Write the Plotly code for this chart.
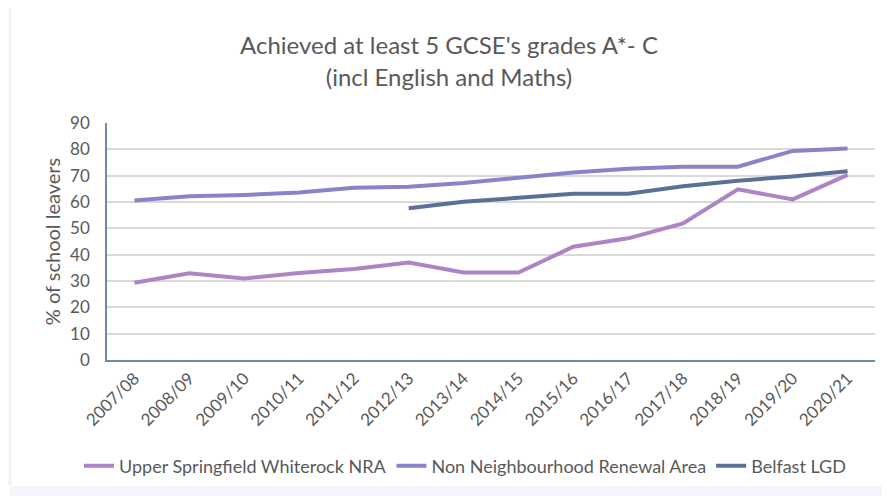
import plotly.graph_objects as go

years = ["2007/08", "2008/09", "2009/10", "2010/11", "2011/12", "2012/13", "2013/14",
         "2014/15", "2015/16", "2016/17", "2017/18", "2018/19", "2019/20", "2020/21"]
usw_nra = [29.3, 32.9, 31.0, 33.0, 34.6, 37.0, 33.2, 33.2, 43.0, 46.2, 51.9, 64.8, 61.0, 70.3]
non_nra = [60.6, 62.2, 62.7, 63.6, 65.4, 65.8, 67.2, 69.2, 71.2, 72.6, 73.4, 73.4, 79.4, 80.3]
belfast = [None, None, None, None, None, 57.6, 60.1, 61.6, 63.1, 63.1, 66.0, 68.1, 69.7, 71.7]

names = ["Upper Springfield Whiterock NRA", "Non Neighbourhood Renewal Area", "Belfast LGD"]
colors = ["#ad84c6", "#8784c7", "#5b7097"]

fig = go.Figure()
for name, vals, c in zip(names, [usw_nra, non_nra, belfast], colors):
    fig.add_trace(go.Scatter(x=years, y=vals, mode="lines", name=name,
                             line=dict(color=c, width=4), connectgaps=False))

font_fam = "Lato, 'Open Sans', sans-serif"
W, H = 882, 488
L, R, T, B = 99, 15, 115, 136
pw, ph = W - L - R, H - T - B

fig.update_layout(
    width=W, height=H,
    margin=dict(l=L, r=R, t=T, b=B),
    paper_bgcolor="white", plot_bgcolor="white",
    font=dict(family=font_fam, color="#595959", size=14),
    title=dict(text="Achieved at least 5 GCSE's grades A*- C<br>(incl English and Maths)",
               x=0.5, xanchor="center", y=0.905, yanchor="top",
               font=dict(size=24, color="#595959", family=font_fam)),
    showlegend=True,
    legend=dict(orientation="h", x=(457 - L) / pw, xanchor="center",
                y=(ph - (458 - T)) / ph, yanchor="middle",
                font=dict(size=18, color="#595959"), itemwidth=30, tracegroupgap=0),
    xaxis=dict(type="category", tickangle=-45, showgrid=False, showline=True,
               linecolor="#7488ab", linewidth=1.5, ticks="", tickfont=dict(size=17),
               range=[-0.5, 13.5]),
    yaxis=dict(range=[0, 90], dtick=10, showgrid=True, gridcolor="#d9d9d9", gridwidth=1.5,
               showline=True, linecolor="#7488ab", linewidth=1.5, zeroline=False,
               tickfont=dict(size=17), ticks="", ticklabelstandoff=12,
               title=dict(text="% of school leavers", font=dict(size=20), standoff=4)),
)
# faint frame like the original picture
fig.add_shape(type="line", xref="paper", yref="paper",
              x0=(2 - L) / pw, x1=(2 - L) / pw, y0=(ph - (477 - T)) / ph, y1=(ph + T) / ph,
              line=dict(color="#f1f2f9", width=3), layer="below")
fig.add_shape(type="rect", xref="paper", yref="paper",
              x0=(2 - L) / pw, x1=(W - L) / pw, y0=(ph - (H - T)) / ph, y1=(ph - (478 - T)) / ph,
              line=dict(width=0), fillcolor="#f7f4fc", layer="below")
fig.write_html("out.html")
